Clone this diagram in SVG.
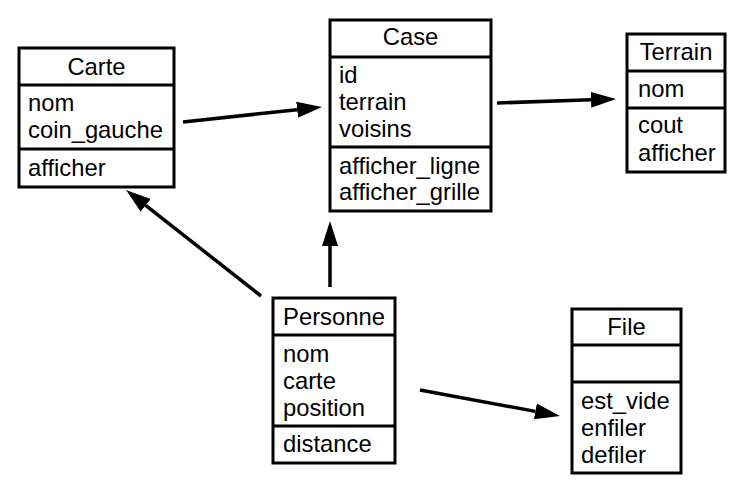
<svg xmlns="http://www.w3.org/2000/svg" width="755" height="490" viewBox="0 0 755 490">
<style>
.box{fill:#fff;stroke:#000;stroke-width:3}
.div{stroke:#000;stroke-width:3}
text{font-family:"Liberation Sans",Arial,sans-serif;font-size:23.8px;fill:#000}
.t{text-anchor:middle}
.c{stroke:#000;stroke-width:3.5;fill:none;marker-end:url(#ah)}
</style>
<defs>
<marker id="ah" markerUnits="userSpaceOnUse" viewBox="0 -9 26 18" markerWidth="26" markerHeight="18" refX="0" refY="0" orient="auto">
<path d="M0,-8 L25,0 L0,8 z" fill="#000"/>
</marker>
</defs>
<rect width="755" height="490" fill="#fff"/>
<g id="connectors">
<line class="c" x1="183" y1="122" x2="297.1" y2="109.7"/>
<line class="c" x1="497" y1="103" x2="591" y2="99.8"/>
<line class="c" x1="261" y1="296" x2="145.7" y2="205.4"/>
<line class="c" x1="330" y1="287" x2="330" y2="246"/>
<line class="c" x1="420" y1="390" x2="535.4" y2="411.4"/>
</g>
<g id="Carte">
<rect class="box" x="19" y="48" width="155" height="139"/>
<line class="div" x1="19" y1="85" x2="174" y2="85"/>
<line class="div" x1="19" y1="149" x2="174" y2="149"/>
<text class="t" x="96.5" y="75">Carte</text>
<text x="28" y="111">nom</text>
<text x="28" y="138">coin_gauche</text>
<text x="28" y="176">afficher</text>
</g>
<g id="Case">
<rect class="box" x="330" y="20" width="161" height="191"/>
<line class="div" x1="330" y1="57" x2="491" y2="57"/>
<line class="div" x1="330" y1="147" x2="491" y2="147"/>
<text class="t" x="410.5" y="45">Case</text>
<text x="339" y="83">id</text>
<text x="339" y="110">terrain</text>
<text x="339" y="137">voisins</text>
<text x="339" y="174">afficher_ligne</text>
<text x="339" y="200">afficher_grille</text>
</g>
<g id="Terrain">
<rect class="box" x="627" y="34" width="98" height="138"/>
<line class="div" x1="627" y1="71" x2="725" y2="71"/>
<line class="div" x1="627" y1="108" x2="725" y2="108"/>
<text class="t" x="676" y="60">Terrain</text>
<text x="638" y="97">nom</text>
<text x="638" y="133">cout</text>
<text x="638" y="161">afficher</text>
</g>
<g id="Personne">
<rect class="box" x="273" y="298" width="122" height="165"/>
<line class="div" x1="273" y1="335" x2="395" y2="335"/>
<line class="div" x1="273" y1="426" x2="395" y2="426"/>
<text class="t" x="334" y="325">Personne</text>
<text x="283" y="362">nom</text>
<text x="283" y="389">carte</text>
<text x="283" y="416">position</text>
<text x="283" y="452">distance</text>
</g>
<g id="File">
<rect class="box" x="572" y="309" width="109" height="164"/>
<line class="div" x1="572" y1="345" x2="681" y2="345"/>
<line class="div" x1="572" y1="382" x2="681" y2="382"/>
<text class="t" x="626.5" y="335">File</text>
<text x="581" y="409">est_vide</text>
<text x="581" y="436">enfiler</text>
<text x="581" y="463">defiler</text>
</g>
</svg>
